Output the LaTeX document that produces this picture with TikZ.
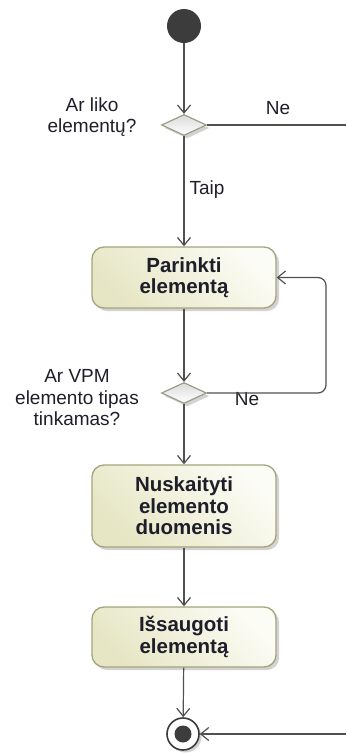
\documentclass[tikz,border=0pt]{standalone}
\usepackage{fontspec}
\setmainfont{Liberation Sans}
\usetikzlibrary{arrows.meta,shapes.geometric,shadows}

\definecolor{linecol}{HTML}{505050}
\definecolor{boxborder}{HTML}{A4A47C}
\definecolor{boxfillA}{HTML}{E6E6C4}
\definecolor{boxfillB}{HTML}{FCFCF6}
\definecolor{diaborder}{HTML}{9C9C88}
\definecolor{nodedark}{HTML}{3C3C3C}
\definecolor{txt}{HTML}{1E1E2A}

\begin{document}
\begin{tikzpicture}[x=1pt,y=-1pt,
  flow/.style={draw=linecol, line width=1.2pt,
    -{Straight Barb[length=8pt,width=13pt,line width=1.2pt]}},
  plainflow/.style={draw=linecol, line width=1.2pt},
  action/.style={rectangle, rounded corners=12pt, draw=boxborder, line width=1.3pt,
    minimum width=184pt, align=center, text=txt,
    font=\bfseries\fontsize{20.5}{21.5}\selectfont,
    shading=axis, left color=boxfillA, right color=boxfillB, shading angle=135,
    drop shadow={shadow xshift=3pt, shadow yshift=-3pt, fill=black!22, opacity=0.8}},
  decision/.style={diamond, minimum width=45pt, minimum height=21pt, inner sep=0pt,
    draw=diaborder, line width=1.2pt,
    shading=axis, top color=black!14, bottom color=white,
    drop shadow={shadow xshift=3pt, shadow yshift=-3pt, fill=black!22, opacity=0.8}},
  guard/.style={inner sep=0pt, align=center, text=txt,
    font=\fontsize{19}{21.5}\selectfont}
]
\useasboundingbox (0,0) rectangle (346,753);

% start and end nodes
\node[circle, fill=nodedark, minimum size=34pt, inner sep=0pt] (start) at (184,26) {};
\node[circle, draw=nodedark, line width=1.6pt, fill=white, minimum size=32pt, inner sep=0pt,
  drop shadow={shadow xshift=2.5pt, shadow yshift=-2.5pt, fill=black!22, opacity=0.8}] (fin) at (183,734) {};
\fill[nodedark] (fin.center) circle (8.5pt);

% decisions
\node[decision] (d1) at (184,125) {};
\node[decision] (d2) at (184,393) {};

% actions
\node[action, minimum height=61pt] (b1) at (184,277.5) {Parinkti\\elementą};
\node[action, minimum height=82pt] (b2) at (184,506) {Nuskaityti\\elemento\\duomenis};
\node[action, minimum height=60pt] (b3) at (184,637) {Išsaugoti\\elementą};

% guard and decision labels
\node[guard] (q1) at (92,117) {Ar liko\\elementų?};
\node[guard] (q2) at (77,398) {Ar VPM\\elemento tipas\\tinkamas?};
\node[guard] (ne1) at (278,108) {Ne};
\node[guard] (taip) at (207,190) {Taip};
\node[guard] (ne2) at (247,399) {Ne};

% free ends and bends
\coordinate (exitA) at (346,125);
\coordinate (exitB) at (346,734);
\coordinate (loopc) at (326,277.5);

% control flows
\draw[flow] (start) -- (d1);
\draw[plainflow] (d1.east) -- (exitA);
\draw[flow] (d1.south) -- (b1);
\draw[flow] (b1) -- (d2.north);
\draw[flow, rounded corners=8pt] (d2.east) -| (loopc) -- (b1.east);
\draw[flow] (d2.south) -- (b2);
\draw[flow] (b2) -- (b3);
\draw[flow] (b3) -- (fin);
\draw[flow] (exitB) -- (fin);
\end{tikzpicture}
\end{document}
